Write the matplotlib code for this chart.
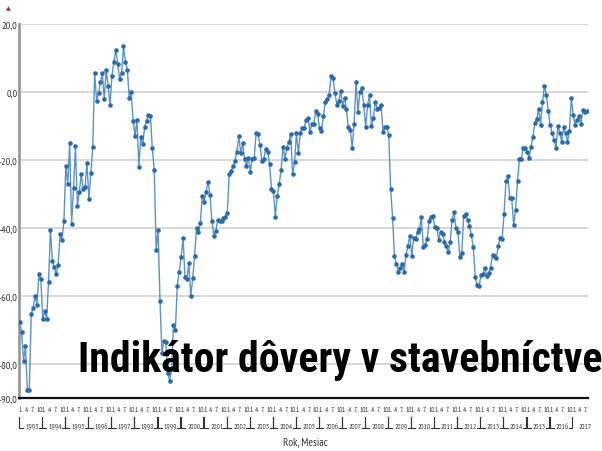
import numpy as np
import matplotlib
matplotlib.use("Agg")
import matplotlib.pyplot as plt

plt.rcParams['font.family'] = ['PT Sans Narrow', 'DejaVu Sans']

# monthly values, Jan 1993 onwards
vals_1993_1997 = [-67.7, -70.5, -79.0, -74.8, -87.5, -87.5, -65.3, -63.4, -59.9, -62.5, -53.5, -55.0,
                  -66.8, -64.5, -66.8, -56.0, -40.5, -49.7, -51.6, -53.6, -50.9, -41.9, -43.4, -37.9,
                  -21.9, -27.1, -15.0, -38.7, -28.3, -16.0, -33.5, -29.5, -24.2, -28.5, -27.9, -20.9,
                  -31.6, -23.8, -16.1, 5.6, -2.5, -0.3, 2.8, 5.6, -2.1, 6.6, 1.9, -3.7,
                  4.6, 8.9, 12.5, 8.1, 3.8, 5.6, 13.4, 8.9, 6.6, -1.9, -0.1, -8.4, -13.0]
vals_1998_2002 = [-8.2, -22.0, -13.3, -15.3, -10.4, -8.4, -6.7, -7.0, -16.6, -22.9, -46.4, -40.5,
                  -61.4, -76.9, -73.1, -73.6, -82.6, -84.9, -81.5, -68.5, -69.9, -57.0, -52.8, -48.4,
                  -42.9, -54.5, -55.0, -50.4, -60.1, -54.8, -48.1, -39.9, -41.3, -38.5, -30.5, -32.3,
                  -29.3, -26.4, -30.2, -37.8, -42.3, -40.9, -37.7, -37.9, -37.9, -37.0, -36.7, -35.7,
                  -24.2, -23.1, -21.9, -20.2, -17.5, -13.0, -18.0, -15.0, -19.7, -21.7, -19.5, -23.4]
vals_2003_2007 = [-19.7, -19.5, -12.1, -12.4, -15.6, -20.2, -19.7, -16.8, -17.5, -21.2, -28.5, -29.1,
                  -36.8, -30.5, -27.2, -22.9, -16.2, -19.7, -16.4, -14.8, -12.4, -24.2, -20.7, -12.1,
                  -18.0, -12.1, -10.5, -10.7, -8.1, -7.6, -11.7, -9.5, -9.4, -5.6, -6.6, -10.7,
                  -11.5, -7.1, -3.0, -2.1, -0.9, 4.6, 4.0, -0.3, -3.7, -2.7, 0.4, -4.2,
                  -1.7, -5.0, -10.4, -11.1, -16.4, -9.3, 3.0, -6.0, 0.1, 1.1, -3.8, -10.4]
vals_2008_2012 = [-3.8, -0.9, -10.1, -7.7, -2.8, -5.0, -4.8, -3.8, -11.7, -10.4, -10.4, -12.6,
                  -28.5, -37.0, -48.3, -50.6, -52.8, -51.7, -50.7, -52.8, -47.9, -45.2, -42.3, -48.1,
                  -42.8, -43.2, -41.3, -40.3, -36.8, -45.7, -45.0, -43.2, -37.9, -36.8, -36.6, -39.7,
                  -40.1, -43.4, -41.1, -41.8, -44.0, -45.2, -47.2, -44.0, -37.5, -35.4, -40.1, -41.3,
                  -48.6, -47.4, -36.6, -35.8, -37.7, -39.3, -42.1, -45.6, -54.5, -56.8, -57.2]
vals_2013_2017 = [-53.8, -53.5, -51.7, -54.0, -53.2, -51.7, -47.9, -48.3, -48.9, -45.2, -42.8, -43.2,
                  -35.9, -26.3, -24.8, -31.1, -31.3, -39.1, -34.6, -26.2, -19.7, -19.7, -16.4, -16.6,
                  -17.7, -19.3, -16.2, -13.1, -9.2, -7.9, -5.0, -9.7, -3.0, 1.9, -0.9, -5.6,
                  -9.7, -12.1, -14.0, -16.6, -9.9, -12.1, -14.6, -10.4, -12.1, -14.6, -11.4, -1.9,
                  -6.8, -9.7, -8.1, -7.0, -9.3, -5.4, -6.0, -5.6]

years = list(range(1993, 2018))
month_labels = ['1.', '4.', '7.', '10.']
y_ticks = [20, 0, -20, -40, -60, -80, -90]
y_tick_labels = ['20,0', '0,0', '-20,0', '-40,0', '-60,0', '-80,0', '-90,0']

values = np.array(vals_1993_1997 + vals_1998_2002 + vals_2003_2007 + vals_2008_2012 + vals_2013_2017)
n = len(values)
x = np.arange(n)

fig = plt.figure(figsize=(6.02, 4.52), dpi=100)
ax = fig.add_axes([19 / 602, 53 / 452, 569 / 602, 374 / 452])

ax.plot(x, values, color='#5b93c6', lw=1.0, marker='o', ms=2.3,
        mfc='#2c6ba8', mec='#2c6ba8', zorder=3)

s = 567.0 / (n - 1)
ax.set_xlim(-0.7 / s, n - 1 + 1.3 / s)
ax.set_ylim(-90, 20)

ax.set_yticks(y_ticks)
ax.set_yticklabels(y_tick_labels, fontsize=7.5, color='#333333')
ax.tick_params(axis='y', length=0, pad=1)
for v in y_ticks[:-1]:
    ax.axhline(v, color='#d4d4d4', lw=1.3, zorder=1)

ax.set_xticks([])
for side in ['top', 'right']:
    ax.spines[side].set_visible(False)
ax.spines['left'].set_color('#9a9a9a')
ax.spines['left'].set_linewidth(2)
ax.spines['bottom'].set_color('#111111')
ax.spines['bottom'].set_linewidth(1.6)

# month labels and year brackets under the axis
tr = ax.get_xaxis_transform()
for i, yr in enumerate(years):
    start = i * 12
    for k, lab in enumerate(month_labels):
        pos = start + 3 * k
        if pos < n:
            ax.text(pos - 0.4, -0.032, lab, transform=tr, fontsize=5.0, ha='left', va='center',
                    color='#333333', clip_on=False)
    mid = start + 6.5
    ax.text(mid, -0.081, str(yr), transform=tr, fontsize=5.3, ha='center', va='baseline',
            color='#333333', clip_on=False)
    if start + 12 <= n:
        end = start + 11.6
        b0 = start - 0.3
        ax.plot([b0, b0, b0 + 2.2], [-0.050, -0.080, -0.080], transform=tr,
                color='#333333', lw=0.8, clip_on=False)
        ax.plot([end - 1.6, end, end], [-0.080, -0.080, -0.050], transform=tr,
                color='#333333', lw=0.8, clip_on=False)

fig.text(305 / 602, 5 / 452, 'Rok, Mesiac', fontsize=8, ha='center', va='bottom', color='#333333')

# small red marker above the y axis
fig.text(8 / 602, 1 - 9 / 452, '\u25B2', fontsize=4.5, color='#b02a2a', ha='center', va='center',
         family='DejaVu Sans')

title = fig.text(78 / 602, 80 / 452, 'Indikátor dôvery v stavebníctve', fontsize=29,
                 fontweight='bold', family=['Roboto Condensed', 'DejaVu Sans'],
                 ha='left', va='baseline', color='black')
# fit the title to the width it has in the reference
fig.canvas.draw()
w = title.get_window_extent().width
title.set_fontsize(29 * 522.0 / w)

fig.savefig('out.png', dpi=100)
